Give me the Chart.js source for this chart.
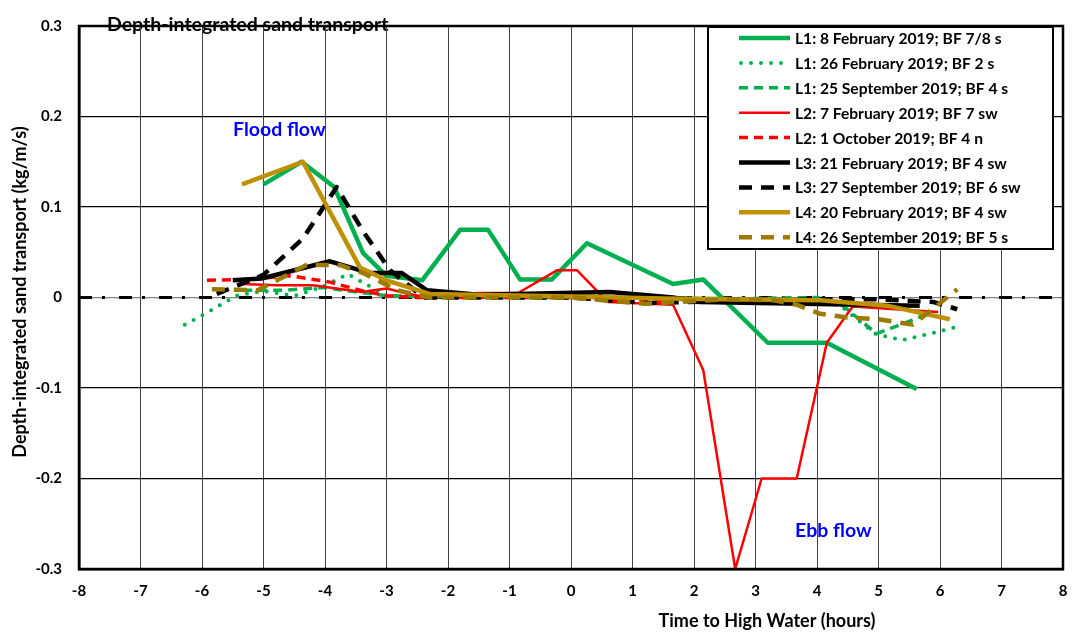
<!DOCTYPE html>
<html>
<head>
<meta charset="utf-8">
<script src="https://cdn.jsdelivr.net/npm/chart.js@4"></script>
<style>
html,body{margin:0;padding:0;background:#fff;}
#wrap{width:1082px;height:636px;position:relative;}
</style>
</head>
<body>
<div id="wrap"><canvas id="c" width="1082" height="636"></canvas></div>
<script>
// ---- Data (hours relative to high water, kg/m/s) ----
const l1Feb8X  = [-5.0, -4.38, -3.85, -3.38, -3.0, -2.42, -1.8, -1.35, -0.83, -0.31, 0.26, 1.66, 2.15, 3.2, 4.16, 5.62];
const l1Feb8Y  = [0.125, 0.150, 0.122, 0.049, 0.024, 0.019, 0.075, 0.075, 0.020, 0.020, 0.060, 0.015, 0.020, -0.050, -0.050, -0.101];

const l1Feb26X = [-6.28, -5.98, -5.41, -4.97, -4.49, -4.03, -3.63, -3.0, -2.0, -1.0, 0.0, 1.0, 2.0, 3.0, 4.0, 4.4, 4.94, 5.38, 5.84, 6.29];
const l1Feb26Y = [-0.030, -0.019, 0.003, 0.007, 0.002, 0.012, 0.026, 0.002, 0.001, 0.001, 0.0, 0.0, -0.001, -0.002, -0.002, -0.010, -0.040, -0.047, -0.040, -0.032];

const l1Sep25X = [-5.33, -4.97, -4.68, -4.03, -3.48, -3.0, -2.0, -1.0, 0.0, 1.0, 2.0, 3.0, 4.0, 4.4, 4.97, 5.51, 5.8];
const l1Sep25Y = [0.008, 0.008, 0.008, 0.011, 0.006, 0.002, 0.001, 0.0, 0.0, 0.0, -0.001, -0.001, 0.0, -0.008, -0.040, -0.026, -0.018];

const l2Feb7X  = [-5.35, -4.78, -4.2, -3.4, -3.0, -2.5, -1.48, -0.86, -0.23, 0.1, 0.6, 1.66, 2.15, 2.67, 3.1, 3.67, 4.16, 4.58, 5.97];
const l2Feb7Y  = [0.015, 0.0135, 0.0135, 0.006, 0.010, 0.002, 0.005, 0.005, 0.030, 0.030, -0.005, -0.008, -0.080, -0.300, -0.200, -0.200, -0.050, -0.010, -0.016];

const l2Oct1X  = [-5.92, -5.27, -4.57, -3.92, -3.43, -3.0, -2.5, -1.0, 0.0, 1.0, 2.0, 3.0, 4.0, 5.0];
const l2Oct1Y  = [0.019, 0.020, 0.024, 0.017, 0.008, 0.002, 0.0, 0.0, 0.0, -0.005, -0.003, -0.002, -0.003, -0.008];

const l3Feb21X = [-5.5, -5.03, -3.92, -3.27, -2.75, -2.34, -1.5, 0.63, 1.66, 2.1, 5.67];
const l3Feb21Y = [0.019, 0.021, 0.040, 0.027, 0.027, 0.008, 0.003, 0.006, 0.0, -0.005, -0.009];

const l3Sep27X = [-5.76, -5.0, -4.36, -3.81, -3.38, -2.94, -2.4, 0.0, 1.28, 4.0, 5.0, 5.9, 6.28];
const l3Sep27Y = [0.004, 0.025, 0.065, 0.122, 0.073, 0.030, 0.0, 0.0, -0.006, -0.002, -0.002, -0.005, -0.013];

const l4Feb20X = [-5.35, -4.36, -3.43, -3.0, -2.3, 0.0, 1.5, 2.5, 4.05, 5.14, 6.16];
const l4Feb20Y = [0.125, 0.150, 0.033, 0.019, 0.004, 0.001, -0.001, -0.002, -0.003, -0.009, -0.024];

const l4Sep26X = [-5.84, -5.1, -4.3, -3.76, -3.38, -2.83, -2.3, 0.0, 1.2, 2.5, 3.3, 3.67, 4.05, 4.49, 5.0, 5.56, 6.28];
const l4Sep26Y = [0.009, 0.008, 0.036, 0.036, 0.027, 0.008, 0.0, 0.0, -0.007, -0.002, -0.003, -0.008, -0.018, -0.022, -0.024, -0.030, 0.009];

const zeroX = [-8, 8];
const zeroY = [0, 0];

const seriesLabels = [
  'L1: 8 February 2019; BF 7/8 s',
  'L1: 26 February 2019; BF 2 s',
  'L1: 25 September 2019; BF 4 s',
  'L2: 7 February 2019; BF 7 sw',
  'L2: 1 October 2019; BF 4 n',
  'L3: 21 February 2019; BF 4 sw',
  'L3: 27 September 2019; BF 6 sw',
  'L4: 20 February 2019; BF 4 sw',
  'L4: 26 September 2019; BF 5 s'
];
const xTickValues = [-8,-7,-6,-5,-4,-3,-2,-1,0,1,2,3,4,5,6,7,8];
const yTickValues = [-0.3,-0.2,-0.1,0,0.1,0.2,0.3];

const FONT = 'Lato, "Open Sans", "Liberation Sans", sans-serif';
const GREEN = '#00B050', RED = '#FF0000', BLACK = '#000000', GOLD = '#BF9000', DGOLD = '#9C7A00';

function pts(xs, ys){ return xs.map((x,i)=>({x:x, y:ys[i]})); }

const styles = [
  {c:GREEN, w:4.5, dash:[], cap:'butt'},
  {c:GREEN, w:4, dash:[0,10], cap:'round'},
  {c:GREEN, w:3.5, dash:[9,6], cap:'butt'},
  {c:RED, w:2.5, dash:[], cap:'butt'},
  {c:RED, w:3.5, dash:[9,6], cap:'butt'},
  {c:BLACK, w:4.5, dash:[], cap:'butt'},
  {c:BLACK, w:4.5, dash:[13,9], cap:'butt'},
  {c:GOLD, w:4.5, dash:[], cap:'butt'},
  {c:DGOLD, w:4.5, dash:[13,9], cap:'butt'}
];
const seriesData = [
  pts(l1Feb8X,l1Feb8Y), pts(l1Feb26X,l1Feb26Y), pts(l1Sep25X,l1Sep25Y),
  pts(l2Feb7X,l2Feb7Y), pts(l2Oct1X,l2Oct1Y),
  pts(l3Feb21X,l3Feb21Y), pts(l3Sep27X,l3Sep27Y),
  pts(l4Feb20X,l4Feb20Y), pts(l4Sep26X,l4Sep26Y)
];

const datasets = [{
  label: 'zero', data: pts(zeroX, zeroY), showLine:true, pointRadius:0,
  borderColor: BLACK, borderWidth:3, borderDash:[13,10,3,14], tension:0, order: 100, fill:false
}];
seriesLabels.forEach((lab,i)=>{
  const s = styles[i];
  datasets.push({
    label: lab, data: seriesData[i], showLine:true, pointRadius:0, pointHoverRadius:0,
    borderColor: s.c, backgroundColor: s.c, borderWidth: s.w, borderDash: s.dash,
    borderCapStyle: s.cap, borderJoinStyle:'round', tension:0, fill:false,
    order: 50 - i
  });
});

const decor = {
  id:'decor',
  beforeDraw(chart){
    const ctx = chart.ctx;
    ctx.save();
    ctx.fillStyle = '#000';
    ctx.font = 'bold 19.5px ' + FONT;
    ctx.textBaseline = 'middle'; ctx.textAlign = 'left';
    ctx.fillText('Depth-integrated sand transport', 107, 25);
    ctx.restore();
  },
  afterDraw(chart){
    const ctx = chart.ctx, a = chart.chartArea;
    ctx.save();
    // plot border
    ctx.strokeStyle = '#000'; ctx.lineWidth = 2.5; ctx.setLineDash([]);
    ctx.strokeRect(a.left, a.top, a.right - a.left, a.bottom - a.top);
    // annotations
    ctx.textBaseline = 'middle'; ctx.textAlign = 'left';
    ctx.fillStyle = '#0000FF';
    ctx.font = 'bold 19.5px ' + FONT;
    ctx.fillText('Flood flow', 233, 130);
    ctx.fillText('Ebb flow', 795, 531);
    // axis titles
    ctx.fillStyle = '#000';
    ctx.font = 'bold 18px ' + FONT;
    ctx.textAlign = 'center';
    ctx.fillText('Time to High Water (hours)', 767, 621);
    ctx.translate(20, 292); ctx.rotate(-Math.PI/2);
    ctx.fillText('Depth-integrated sand transport (kg/m/s)', 0, 0);
    ctx.setTransform(1,0,0,1,0,0);
    // legend
    const lx = 708, ly = 27, lw = 345, lh = 222;
    ctx.fillStyle = '#fff'; ctx.fillRect(lx, ly, lw, lh);
    ctx.strokeStyle = '#000'; ctx.lineWidth = 2; ctx.strokeRect(lx, ly, lw, lh);
    ctx.font = 'bold 15.6px ' + FONT; ctx.textAlign = 'left'; ctx.textBaseline = 'middle';
    seriesLabels.forEach((lab,i)=>{
      const ds = chart.data.datasets[i+1];
      const y = 38 + i*24.9;
      ctx.beginPath();
      ctx.strokeStyle = ds.borderColor; ctx.lineWidth = ds.borderWidth;
      ctx.setLineDash(ds.borderDash); ctx.lineCap = ds.borderCapStyle;
      const x0 = ds.borderCapStyle === 'round' ? 741 : 739;
      ctx.moveTo(x0, y); ctx.lineTo(790, y); ctx.stroke();
      ctx.setLineDash([]);
      ctx.fillStyle = '#000';
      ctx.fillText(lab, 795, y + 1);
    });
    ctx.restore();
  }
};

new Chart(document.getElementById('c'), {
  type: 'scatter',
  data: { datasets },
  options: {
    responsive:false, animation:false, devicePixelRatio:1,
    layout: { padding: { top:13, right:19, left:0, bottom:0 } },
    plugins: { legend:{display:false}, tooltip:{enabled:false}, title:{display:false} },
    scales: {
      x: {
        type:'linear', min:-8, max:8,
        afterBuildTicks(scale){ scale.ticks = xTickValues.map(v=>({value:v})); },
        afterFit(scale){ scale.height = 67; },
        ticks: { color:'#000', font:{family:FONT, size:15, weight:'bold'}, padding:13, maxRotation:0,
                 callback:(v)=>String(v) },
        grid: { color:'#444', lineWidth:1, drawTicks:false },
        border: { display:true, color:'#000', width:2.5 }
      },
      y: {
        type:'linear', min:-0.3, max:0.3,
        afterBuildTicks(scale){ scale.ticks = yTickValues.map(v=>({value:v})); },
        afterFit(scale){ scale.width = 79; },
        ticks: { color:'#000', font:{family:FONT, size:15, weight:'bold'}, padding:17,
                 callback:(v)=> Math.abs(v) < 1e-9 ? '0' : (Math.round(v*10)/10).toFixed(1) },
        grid: { color:(c)=> (c.tick && Math.abs(c.tick.value) < 1e-9) ? '#808080' : '#000', lineWidth:1.2, drawTicks:false },
        border: { display:true, color:'#000', width:2.5 }
      }
    }
  },
  plugins: [decor]
});
</script>
</body>
</html>
